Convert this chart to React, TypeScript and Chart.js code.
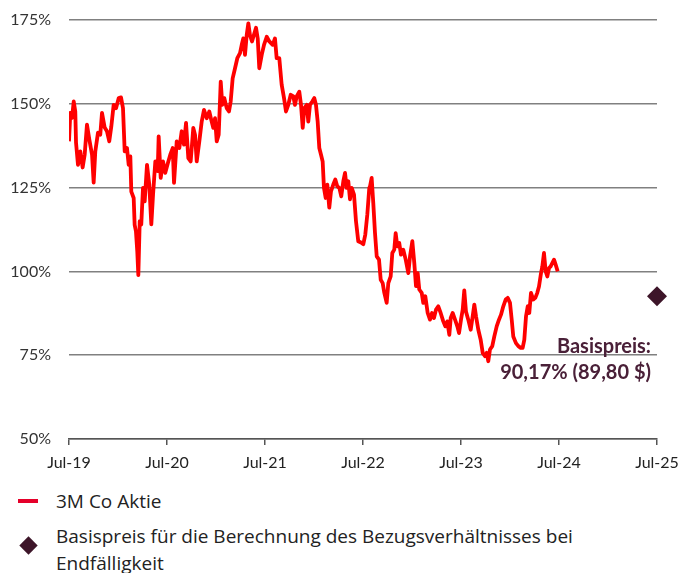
import React, { useEffect, useRef } from "react";
import { Chart, registerables } from "chart.js";

Chart.register(...registerables);

// Month offsets since Jul-2019 and relative performance (%)
const months = [
  0.0, 0.16, 0.37, 0.58, 0.77, 0.86, 1.1, 1.38, 1.67, 1.92, 2.2, 2.49, 2.82, 3.02, 3.22, 3.55, 3.83, 4.04, 4.37, 4.65,
  4.93, 5.18, 5.47, 5.76, 6.09, 6.37, 6.61, 6.82, 7.1, 7.31, 7.51, 7.63, 7.92, 8.04, 8.2, 8.36, 8.49, 8.66, 8.85, 9.06,
  9.27, 9.55, 9.83, 10.08, 10.29, 10.57, 10.86, 10.98, 11.23, 11.51, 11.79, 12.12, 12.4, 12.7, 12.86, 13.19, 13.51, 13.8, 14.08, 14.33,
  14.61, 14.9, 15.22, 15.43, 15.64, 15.96, 16.25, 16.53, 16.86, 17.18, 17.47, 17.67, 17.88, 18.09, 18.33, 18.58, 18.77, 19.02, 19.31, 19.59,
  19.8, 20.04, 20.33, 20.61, 20.94, 21.15, 21.34, 21.55, 21.76, 21.96, 22.16, 22.41, 22.69, 22.9, 23.11, 23.3, 23.6, 23.88, 24.21, 24.53,
  24.94, 25.22, 25.43, 25.75, 26.04, 26.33, 26.57, 26.85, 27.15, 27.47, 27.67, 27.88, 28.2, 28.41, 28.62, 28.81, 29.11, 29.3, 29.51, 29.79,
  30.04, 30.24, 30.45, 30.65, 30.86, 31.06, 31.22, 31.43, 31.63, 31.87, 32.08, 32.36, 32.61, 32.85, 33.1, 33.34, 33.59, 33.8, 34.0, 34.2,
  34.41, 34.62, 34.9, 35.14, 35.42, 35.75, 36.04, 36.28, 36.53, 36.77, 36.86, 37.06, 37.26, 37.47, 37.68, 37.96, 38.17, 38.41, 38.61, 38.9,
  39.1, 39.39, 39.59, 39.83, 40.0, 40.2, 40.44, 40.65, 40.93, 41.23, 41.55, 41.76, 42.04, 42.28, 42.49, 42.7, 42.89, 43.19, 43.38, 43.63,
  43.92, 44.2, 44.45, 44.69, 44.94, 45.22, 45.51, 45.83, 46.08, 46.32, 46.57, 46.74, 46.98, 47.27, 47.55, 47.76, 48.0, 48.21, 48.4, 48.61,
  48.89, 49.19, 49.43, 49.63, 49.84, 50.12, 50.41, 50.66, 50.94, 51.15, 51.34, 51.55, 51.83, 52.08, 52.37, 52.65, 52.9, 53.18, 53.47, 53.72,
  54.0, 54.21, 54.4, 54.73, 55.02, 55.31, 55.55, 55.75, 55.96, 56.17, 56.36, 56.57, 56.85, 57.1, 57.34, 57.55, 57.8, 57.96, 58.16, 58.37,
  58.57, 58.78, 58.98, 59.18, 59.39, 59.59, 59.84,
];

const aktie = [
  138.8, 147.3, 145.8, 150.7, 147.7, 138.4, 131.8, 135.8, 131.0, 134.8, 143.8, 139.3, 134.8, 126.5, 135.8, 141.4, 140.8, 147.3, 142.9, 141.8,
  138.8, 143.2, 149.7, 148.7, 151.7, 151.9, 148.7, 135.8, 136.8, 131.8, 134.3, 123.8, 121.9, 113.9, 111.9, 106.0, 98.9, 115.0, 114.0, 124.9,
  120.9, 131.8, 125.9, 114.0, 122.8, 132.8, 129.9, 140.3, 127.9, 132.8, 129.4, 132.4, 134.8, 136.8, 126.4, 138.8, 136.8, 141.8, 137.8, 144.3,
  133.8, 132.8, 142.8, 140.8, 132.8, 138.8, 144.7, 148.2, 145.7, 147.7, 144.7, 142.8, 145.7, 138.8, 140.8, 156.6, 149.7, 151.7, 148.7, 147.7,
  150.7, 157.6, 160.6, 163.6, 165.1, 167.6, 169.5, 164.6, 170.5, 174.0, 170.5, 168.6, 171.0, 172.7, 169.5, 160.6, 164.6, 167.6, 170.0, 168.6,
  167.6, 169.5, 163.6, 163.6, 155.7, 151.7, 147.7, 149.7, 152.7, 152.2, 149.7, 152.2, 153.6, 149.7, 142.8, 148.7, 149.7, 144.7, 149.7, 150.7,
  151.7, 149.7, 144.7, 136.8, 134.8, 132.8, 124.9, 121.9, 125.9, 119.0, 123.9, 125.9, 127.4, 125.4, 124.9, 122.4, 126.9, 129.4, 124.9, 126.9,
  121.5, 124.9, 122.9, 115.0, 109.0, 108.6, 108.1, 111.0, 117.0, 124.9, 125.4, 127.9, 120.4, 111.4, 104.5, 103.5, 97.5, 96.5, 93.6, 90.6,
  96.5, 98.5, 105.5, 106.5, 111.4, 107.5, 108.5, 105.0, 106.5, 103.5, 99.5, 104.5, 109.0, 102.5, 95.6, 99.5, 94.6, 93.6, 90.6, 92.6,
  87.6, 85.6, 87.6, 86.1, 88.6, 89.6, 87.6, 85.1, 83.6, 85.1, 81.1, 86.1, 87.6, 85.6, 83.6, 81.6, 85.6, 88.6, 94.3, 88.0,
  85.6, 82.6, 86.6, 90.1, 86.6, 82.6, 79.6, 75.7, 74.7, 75.7, 73.2, 76.7, 77.7, 80.6, 83.6, 85.6, 87.1, 89.6, 91.6, 92.1,
  90.6, 85.6, 80.6, 78.6, 77.7, 77.2, 77.2, 79.6, 86.6, 89.6, 87.6, 93.6, 91.6, 92.1, 93.6, 95.5, 99.5, 101.5, 105.5, 100.0,
  98.5, 101.0, 101.5, 102.5, 103.5, 102.0, 100.0,
];

const basisMonth = 72;
const basisValue = 92.6;
const xTickLabels = ["Jul-19", "Jul-20", "Jul-21", "Jul-22", "Jul-23", "Jul-24", "Jul-25"];
const yTicks = [50, 75, 100, 125, 150, 175];
const annotationLines = ["Basispreis:", "90,17% (89,80 $)"];
const legendLabels = ["3M Co Aktie", "Basispreis für die Berechnung des Bezugsverhältnisses bei Endfälligkeit"];

const FONT = "Lato, 'Open Sans', sans-serif";
const LEGEND_FONT = "'Open Sans', Lato, sans-serif";
const PURPLE = "#3d1529";

const annotationPlugin = {
  id: "basisAnnotation",
  afterDatasetsDraw(chart: any) {
    const { ctx, chartArea, scales } = chart;
    const y75 = scales.y.getPixelForValue(75);
    ctx.save();
    ctx.font = `bold 20px ${FONT}`;
    ctx.fillStyle = "#4a2038";
    ctx.textAlign = "right";
    ctx.textBaseline = "middle";
    ctx.fillText(annotationLines[0], chartArea.right - 6, y75 - 9);
    ctx.fillText(annotationLines[1], chartArea.right - 6, y75 + 17);
    ctx.restore();
  },
};

export default function App() {
  const ref = useRef<HTMLCanvasElement>(null);

  useEffect(() => {
    if (!ref.current) return;
    const chart = new Chart(ref.current, {
      type: "line",
      data: {
        datasets: [
          {
            label: legendLabels[0],
            data: months.map((m, i) => ({ x: m, y: aktie[i] })),
            borderColor: "#ff0000",
            borderWidth: 3.8,
            pointRadius: 0,
            tension: 0,
            borderJoinStyle: "round",
          } as any,
          {
            label: legendLabels[1],
            data: [{ x: basisMonth, y: basisValue }],
            showLine: false,
            pointStyle: "rectRot",
            pointRadius: 10,
            pointBackgroundColor: PURPLE,
            pointBorderColor: PURPLE,
            pointBorderWidth: 0,
            clip: false,
          } as any,
        ],
      },
      options: {
        animation: false,
        responsive: false,
        layout: { padding: { left: 0, right: 24, top: 20, bottom: 0 } },
        plugins: { legend: { display: false }, tooltip: { enabled: false } },
        scales: {
          x: {
            type: "linear",
            min: 0,
            max: 72,
            afterFit: (s: any) => {
              s.height = 41;
              s.paddingLeft = 0;
              s.paddingRight = 0;
            },
            afterBuildTicks: (s: any) => {
              s.ticks = xTickLabels.map((_, i) => ({ value: i * 12 }));
            },
            ticks: {
              autoSkip: false,
              maxRotation: 0,
              padding: 8,
              color: "#222",
              font: { family: FONT, size: 16 },
              callback: (v: any) => xTickLabels[Math.round(Number(v) / 12)],
            },
            grid: { drawOnChartArea: false, drawTicks: true, tickLength: 6, color: "#555", lineWidth: 1.5 },
            border: { display: true, color: "#555", width: 1.5 },
          },
          y: {
            min: 50,
            max: 175,
            afterFit: (s: any) => {
              s.width = 69;
              s.paddingTop = 0;
              s.paddingBottom = 0;
            },
            afterBuildTicks: (s: any) => {
              s.ticks = yTicks.map((v) => ({ value: v }));
            },
            ticks: {
              padding: 18,
              color: "#333",
              font: { family: FONT, size: 16 },
              callback: (v: any) => `${v}%`,
            },
            grid: { drawTicks: false, color: "#808080", lineWidth: 1.5 },
            border: { display: false },
          },
        },
      },
      plugins: [annotationPlugin],
    });
    return () => chart.destroy();
  }, []);

  return (
    <div style={{ position: "absolute", left: 0, top: 0, width: 681, height: 573, background: "#fff", overflow: "hidden" }}>
      <canvas ref={ref} width={681} height={480} style={{ display: "block" }} />
      <div style={{ position: "absolute", left: 0, top: 488, width: 681, fontFamily: LEGEND_FONT }}>
        <div style={{ display: "flex", alignItems: "center", height: 26 }}>
          <div style={{ width: 20, height: 4, background: "#e5002a", marginLeft: 18, marginRight: 18 }} />
          <span style={{ fontSize: 19, color: "#222" }}>{legendLabels[0]}</span>
        </div>
        <div style={{ position: "relative", marginTop: 9 }}>
          <div
            style={{
              position: "absolute",
              left: 22,
              top: 16,
              width: 13,
              height: 13,
              background: PURPLE,
              transform: "rotate(45deg)",
            }}
          />
          <div style={{ marginLeft: 56, fontSize: 19, lineHeight: "27px", color: "#222", width: 560 }}>
            {legendLabels[1]}
          </div>
        </div>
      </div>
    </div>
  );
}
